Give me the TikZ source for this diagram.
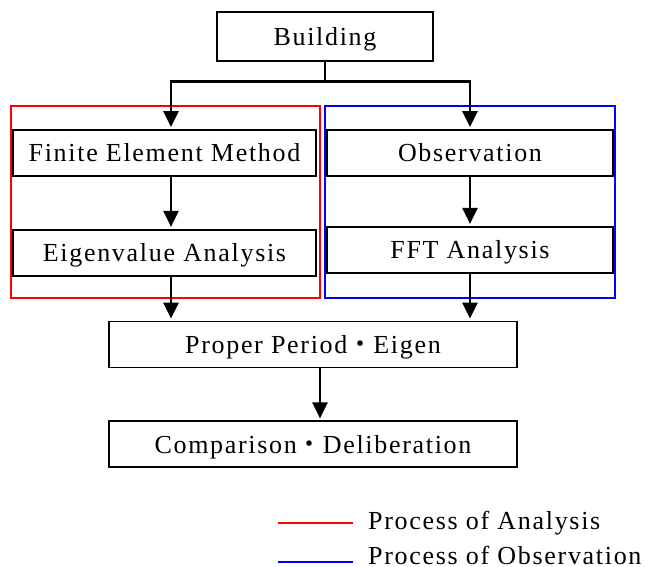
\documentclass[tikz,border=0pt]{standalone}
\usepackage{fontspec}
\setmainfont{Liberation Serif}[LetterSpace=6.5]
\newfontfamily\cjkfont{Noto Sans CJK JP}
\usetikzlibrary{positioning, arrows.meta}
\newcommand{\mdot}{{\cjkfont ・}}

\begin{document}
\begin{tikzpicture}[x=1pt, y=-1pt, node distance=52pt,
  font=\fontsize{26}{30}\selectfont,
  box/.style={draw, line width=1.8pt, inner sep=0pt, minimum height=46pt, align=center,
              text height=17.5pt, text depth=0pt},
  group/.style={line width=1.6pt},
  arr/.style={-{Triangle[length=16pt,width=15pt]}, line width=2.4pt, shorten >=2pt},
  line/.style={line width=2.4pt}]
  \useasboundingbox (0,0) rectangle (648,567);
  \node[box, minimum width=216pt, minimum height=49pt] (build) at (325,36.5) {Building};
  \node[box, minimum width=303pt] (fem) at (164.5,153) {Finite Element Method};
  \node[box, minimum width=286pt] (obs) at (470,153) {Observation};
  \node[box, minimum width=303pt, below=52pt of fem] (eig) {Eigenvalue Analysis};
  \node[box, minimum width=286pt, below=49pt of obs] (fft) {FFT Analysis};
  \node[box, minimum width=408pt] (prop) at (313,344.5) {Proper Period\mdot Eigen};
  \node[box, minimum width=408pt, below=52pt of prop] (comp) {Comparison\mdot Deliberation};
  % process frames
  \draw[red, group] (11,106) rectangle (320,298);
  \draw[blue, group] (325,106) rectangle (615,298);
  % connectors
  \coordinate (split) at (325,81.5);
  \draw[line] (build) -- (split);
  \draw[arr] (split) -| ([xshift=6.5pt]fem.north);
  \draw[arr] (split) -| (obs.north);
  \draw[arr] ([xshift=6.5pt]fem.south) -- ([xshift=6.5pt]eig.north);
  \draw[arr] (obs) -- (fft);
  \draw[arr] ([xshift=6.5pt]eig.south) -- ([xshift=6.5pt]eig.south |- prop.north);
  \draw[arr] (fft) -- (fft |- prop.north);
  \draw[arr] ([xshift=7pt]prop.south) -- ([xshift=7pt]prop.south |- comp.north);
  % legend
  \coordinate (ra) at (278,523);
  \coordinate (rb) at (353,523);
  \coordinate (ba) at (278,562);
  \coordinate (bb) at (353,562);
  \draw[red, group] (ra) -- (rb);
  \draw[blue, group] (ba) -- (bb);
  \node[inner sep=0pt, anchor=base west] (lega) at (368,529) {Process of Analysis};
  \node[inner sep=0pt, anchor=base west] (legb) at (368,564) {Process of Observation};
\end{tikzpicture}
\end{document}
